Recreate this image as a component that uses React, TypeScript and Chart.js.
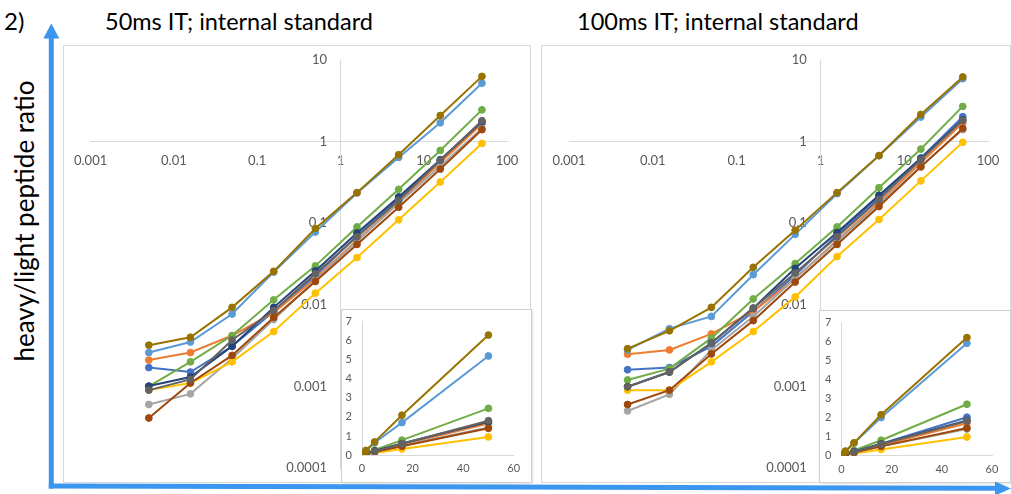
import React, { useEffect, useRef } from "react";
import { Chart, registerables } from "chart.js";

Chart.register(...registerables);

// ---------------- data ----------------
const concentrations = [0.005, 0.0158, 0.05, 0.158, 0.5, 1.58, 5, 15.8, 50];

const seriesLabels = [
  "Peptide 1", "Peptide 2", "Peptide 3", "Peptide 4", "Peptide 5",
  "Peptide 6", "Peptide 7", "Peptide 8", "Peptide 9", "Peptide 10",
];
const seriesColors = [
  "#4472C4", "#ED7D31", "#A5A5A5", "#FFC000", "#5B9BD5",
  "#70AD47", "#264478", "#9E480E", "#636363", "#997300",
];

// 50 ms IT
const it50_p1 = [0.0017, 0.0015, 0.0031, 0.0083, 0.0226, 0.07, 0.2, 0.58, 1.7];
const it50_p2 = [0.0021, 0.0026, 0.0042, 0.008, 0.021, 0.062, 0.18, 0.55, 1.65];
const it50_p3 = [0.0006, 0.00081, 0.0022, 0.0066, 0.02, 0.06, 0.175, 0.5, 1.45];
const it50_p4 = [0.0009, 0.0011, 0.002, 0.0047, 0.0139, 0.038, 0.11, 0.32, 0.95];
const it50_p5 = [0.0026, 0.0035, 0.0077, 0.0252, 0.078, 0.235, 0.64, 1.7, 5.2];
const it50_p6 = [0.001, 0.002, 0.0042, 0.0115, 0.03, 0.09, 0.26, 0.78, 2.45];
const it50_p7 = [0.00101, 0.0013, 0.0031, 0.0093, 0.026, 0.076, 0.21, 0.6, 1.75];
const it50_p8 = [0.00041, 0.0011, 0.0024, 0.007, 0.0193, 0.055, 0.157, 0.46, 1.4];
const it50_p9 = [0.0009, 0.00122, 0.0037, 0.0085, 0.024, 0.068, 0.19, 0.59, 1.8];
const it50_p10 = [0.0032, 0.004, 0.0093, 0.0257, 0.086, 0.237, 0.69, 2.09, 6.3];

// 100 ms IT
const it100_p1 = [0.0016, 0.0017, 0.0031, 0.0083, 0.023, 0.072, 0.21, 0.63, 2.02];
const it100_p2 = [0.00248, 0.0028, 0.0044, 0.0083, 0.021, 0.062, 0.18, 0.55, 1.7];
const it100_p3 = [0.0005, 0.0008, 0.0028, 0.0072, 0.021, 0.06, 0.17, 0.5, 1.4];
const it100_p4 = [0.0009, 0.0009, 0.002, 0.0047, 0.0125, 0.039, 0.111, 0.33, 0.98];
const it100_p5 = [0.0028, 0.0051, 0.0072, 0.0234, 0.073, 0.23, 0.67, 2.0, 5.9];
const it100_p6 = [0.0012, 0.00165, 0.0039, 0.0118, 0.032, 0.09, 0.272, 0.81, 2.7];
const it100_p7 = [0.00099, 0.0015, 0.0034, 0.0091, 0.028, 0.077, 0.22, 0.62, 1.85];
const it100_p8 = [0.0006, 0.0009, 0.0025, 0.0064, 0.019, 0.055, 0.16, 0.49, 1.45];
const it100_p9 = [0.00099, 0.0015, 0.0034, 0.0091, 0.0245, 0.068, 0.195, 0.6, 1.82];
const it100_p10 = [0.0029, 0.0048, 0.0093, 0.0288, 0.082, 0.237, 0.675, 2.15, 6.2];

const it50Series = [it50_p1, it50_p2, it50_p3, it50_p4, it50_p5, it50_p6, it50_p7, it50_p8, it50_p9, it50_p10];
const it100Series = [it100_p1, it100_p2, it100_p3, it100_p4, it100_p5, it100_p6, it100_p7, it100_p8, it100_p9, it100_p10];

const logXTicks = [0.001, 0.01, 0.1, 1, 10, 100];
const logXTickLabels = ["0.001", "0.01", "0.1", "1", "10", "100"];
const logYTicks = [0.0001, 0.001, 0.01, 0.1, 1, 10];
const logYTickLabels = ["0.0001", "0.001", "0.01", "0.1", "1", "10"];
const linXTicks = [0, 20, 40, 60];
const linXTickLabels = ["0", "20", "40", "60"];
const linYTicks = [0, 1, 2, 3, 4, 5, 6, 7];
const linYTickLabels = ["0", "1", "2", "3", "4", "5", "6", "7"];

const panelTitles = ["50ms IT; internal standard", "100ms IT; internal standard"];
const yAxisTitle = "heavy/light peptide ratio";
const figureLabel = "2)";

// ---------------- styles ----------------
const FONT = "Lato, 'Open Sans', sans-serif";
const TICK_COLOR = "#595959";
const AXIS_COLOR = "#d9d9d9";
const ARROW_COLOR = "#3b96f0";

type Box = { x: number; y: number; w: number; h: number };
type Pad = { left: number; right: number; top: number; bottom: number };

function buildDatasets(series: number[][], radius: number) {
  return series.map((vals, i) => ({
    label: seriesLabels[i],
    data: concentrations.map((c, j) => ({ x: c, y: vals[j] })),
    borderColor: seriesColors[i],
    backgroundColor: seriesColors[i],
    borderWidth: 2,
    pointRadius: radius,
    pointBorderWidth: 1,
    pointHoverRadius: radius,
    tension: 0,
    xAxisID: "x",
    yAxisID: "y",
    order: series.length - i,
  }));
}

function LogChart({ box, pad, series, labelGap }: { box: Box; pad: Pad; series: number[][]; labelGap: number }) {
  const ref = useRef<HTMLCanvasElement>(null);
  useEffect(() => {
    const canvas = ref.current;
    if (!canvas) return;
    const plotW = box.w - pad.left - pad.right;
    const decades = Math.log10(logXTicks[logXTicks.length - 1] / logXTicks[0]);
    const labelX = Math.pow(10, (-labelGap * decades) / plotW);
    const tickFont = { family: FONT, size: 13 };
    const chart = new Chart(canvas, {
      type: "line",
      data: { datasets: buildDatasets(series, 3.4) as any },
      options: {
        animation: false,
        responsive: false,
        events: [],
        layout: { padding: pad },
        plugins: { legend: { display: false }, tooltip: { enabled: false } },
        scales: {
          x: {
            type: "logarithmic",
            min: logXTicks[0],
            max: logXTicks[logXTicks.length - 1],
            position: { y: 1 } as any,
            grid: { display: false, drawTicks: false },
            border: { display: true, color: AXIS_COLOR, width: 1 },
            afterBuildTicks: (s: any) => {
              s.ticks = logXTicks.map((v) => ({ value: v }));
            },
            ticks: {
              autoSkip: false,
              maxRotation: 0,
              padding: 11,
              color: TICK_COLOR,
              font: tickFont,
              callback: (_v: any, i: number) => logXTickLabels[i],
            },
          },
          y: {
            type: "logarithmic",
            min: logYTicks[0],
            max: logYTicks[logYTicks.length - 1],
            position: { x: 1 } as any,
            grid: { display: false, drawTicks: false },
            border: { display: true, color: AXIS_COLOR, width: 1 },
            afterBuildTicks: (s: any) => {
              s.ticks = logYTicks.map((v) => ({ value: v }));
            },
            ticks: { display: false },
          },
          yLabels: {
            type: "logarithmic",
            axis: "y",
            min: logYTicks[0],
            max: logYTicks[logYTicks.length - 1],
            position: { x: labelX } as any,
            grid: { display: false, drawTicks: false },
            border: { display: false },
            afterBuildTicks: (s: any) => {
              s.ticks = logYTicks.map((v) => ({ value: v }));
            },
            ticks: {
              autoSkip: false,
              padding: 0,
              color: TICK_COLOR,
              font: tickFont,
              callback: (_v: any, i: number) => logYTickLabels[i],
            },
          },
        } as any,
      },
    });
    return () => chart.destroy();
  }, []);
  return (
    <canvas
      ref={ref}
      width={box.w}
      height={box.h}
      style={{ position: "absolute", left: box.x, top: box.y, width: box.w, height: box.h }}
    />
  );
}

function LinearInset({ box, pad, series, labelGap }: { box: Box; pad: Pad; series: number[][]; labelGap: number }) {
  const ref = useRef<HTMLCanvasElement>(null);
  useEffect(() => {
    const canvas = ref.current;
    if (!canvas) return;
    const plotW = box.w - pad.left - pad.right;
    const xMax = linXTicks[linXTicks.length - 1];
    const labelX = (-labelGap * xMax) / plotW;
    const tickFont = { family: FONT, size: 11 };
    const chart = new Chart(canvas, {
      type: "line",
      data: { datasets: buildDatasets(series, 3.4) as any },
      options: {
        animation: false,
        responsive: false,
        events: [],
        layout: { padding: pad },
        plugins: { legend: { display: false }, tooltip: { enabled: false } },
        scales: {
          x: {
            type: "linear",
            min: linXTicks[0],
            max: xMax,
            position: { y: 0 } as any,
            grid: { display: false, drawTicks: false },
            border: { display: true, color: AXIS_COLOR, width: 1 },
            afterBuildTicks: (s: any) => {
              s.ticks = linXTicks.map((v) => ({ value: v }));
            },
            ticks: {
              autoSkip: false,
              maxRotation: 0,
              padding: 7,
              color: TICK_COLOR,
              font: tickFont,
              callback: (_v: any, i: number) => linXTickLabels[i],
            },
          },
          y: {
            type: "linear",
            min: linYTicks[0],
            max: linYTicks[linYTicks.length - 1],
            position: { x: 0 } as any,
            grid: { display: false, drawTicks: false },
            border: { display: true, color: AXIS_COLOR, width: 1 },
            afterBuildTicks: (s: any) => {
              s.ticks = linYTicks.map((v) => ({ value: v }));
            },
            ticks: { display: false },
          },
          yLabels: {
            type: "linear",
            axis: "y",
            min: linYTicks[0],
            max: linYTicks[linYTicks.length - 1],
            position: { x: labelX } as any,
            grid: { display: false, drawTicks: false },
            border: { display: false },
            afterBuildTicks: (s: any) => {
              s.ticks = linYTicks.map((v) => ({ value: v }));
            },
            ticks: {
              autoSkip: false,
              padding: 0,
              color: TICK_COLOR,
              font: tickFont,
              callback: (_v: any, i: number) => linYTickLabels[i],
            },
          },
        } as any,
      },
    });
    return () => chart.destroy();
  }, []);
  return (
    <canvas
      ref={ref}
      width={box.w}
      height={box.h}
      style={{ position: "absolute", left: box.x, top: box.y, width: box.w, height: box.h }}
    />
  );
}

function Frame({ box, shadow }: { box: Box; shadow?: boolean }) {
  return (
    <div
      style={{
        position: "absolute",
        left: box.x,
        top: box.y,
        width: box.w,
        height: box.h,
        boxSizing: "border-box",
        border: `1px solid ${shadow ? "#d0d0d0" : AXIS_COLOR}`,
        background: "#ffffff",
        boxShadow: shadow ? "1px 1px 2px rgba(0,0,0,0.12)" : undefined,
      }}
    />
  );
}

const panel1: Box = { x: 63, y: 45, w: 468, h: 438 };
const panel2: Box = { x: 541, y: 45, w: 470, h: 438 };
const inset1: Box = { x: 341, y: 309, w: 191, h: 174 };
const inset2: Box = { x: 819, y: 310, w: 192, h: 173 };

export default function App() {
  return (
    <div
      style={{
        position: "absolute",
        left: 0,
        top: 0,
        width: 1011,
        height: 494,
        overflow: "hidden",
        background: "#ffffff",
        fontFamily: FONT,
        color: "#000",
      }}
    >
      <div style={{ position: "absolute", left: 4, top: 9, fontSize: 24, lineHeight: 1, whiteSpace: "nowrap" }}>
        {figureLabel}
      </div>
      <div style={{ position: "absolute", left: 105, top: 10, fontSize: 23.5, lineHeight: 1, whiteSpace: "nowrap" }}>
        {panelTitles[0]}
      </div>
      <div style={{ position: "absolute", left: 577, top: 10, fontSize: 23.5, lineHeight: 1, whiteSpace: "nowrap" }}>
        {panelTitles[1]}
      </div>
      <div
        style={{
          position: "absolute",
          left: 23.5 - 170,
          top: 221 - 13,
          width: 340,
          height: 26,
          fontSize: 26,
          lineHeight: 1,
          textAlign: "center",
          whiteSpace: "nowrap",
          transform: "rotate(-90deg)",
        }}
      >
        {yAxisTitle}
      </div>

      <Frame box={panel1} />
      <LogChart box={panel1} pad={{ left: 27, right: 24, top: 15, bottom: 15 }} series={it50Series} labelGap={13.5} />
      <Frame box={inset1} shadow />
      <LinearInset box={inset1} pad={{ left: 21, right: 18.3, top: 12.7, bottom: 28 }} series={it50Series} labelGap={10} />

      <Frame box={panel2} />
      <LogChart box={panel2} pad={{ left: 28, right: 23, top: 15, bottom: 15 }} series={it100Series} labelGap={13.5} />
      <Frame box={inset2} shadow />
      <LinearInset box={inset2} pad={{ left: 22.5, right: 19, top: 12.3, bottom: 27.3 }} series={it100Series} labelGap={10} />

      <svg
        width={1011}
        height={494}
        style={{ position: "absolute", left: 0, top: 0, pointerEvents: "none" }}
      >
        <line x1={51.3} y1={488.5} x2={51.3} y2={37} stroke={ARROW_COLOR} strokeWidth={5} />
        <polygon points="43.3,38.5 51.3,23.5 59.3,38.5" fill={ARROW_COLOR} />
        <line x1={48.8} y1={486} x2={997} y2={488.3} stroke={ARROW_COLOR} strokeWidth={5} />
        <polygon points="995,481.5 1011,488.5 995,495.5" fill={ARROW_COLOR} />
      </svg>
    </div>
  );
}
